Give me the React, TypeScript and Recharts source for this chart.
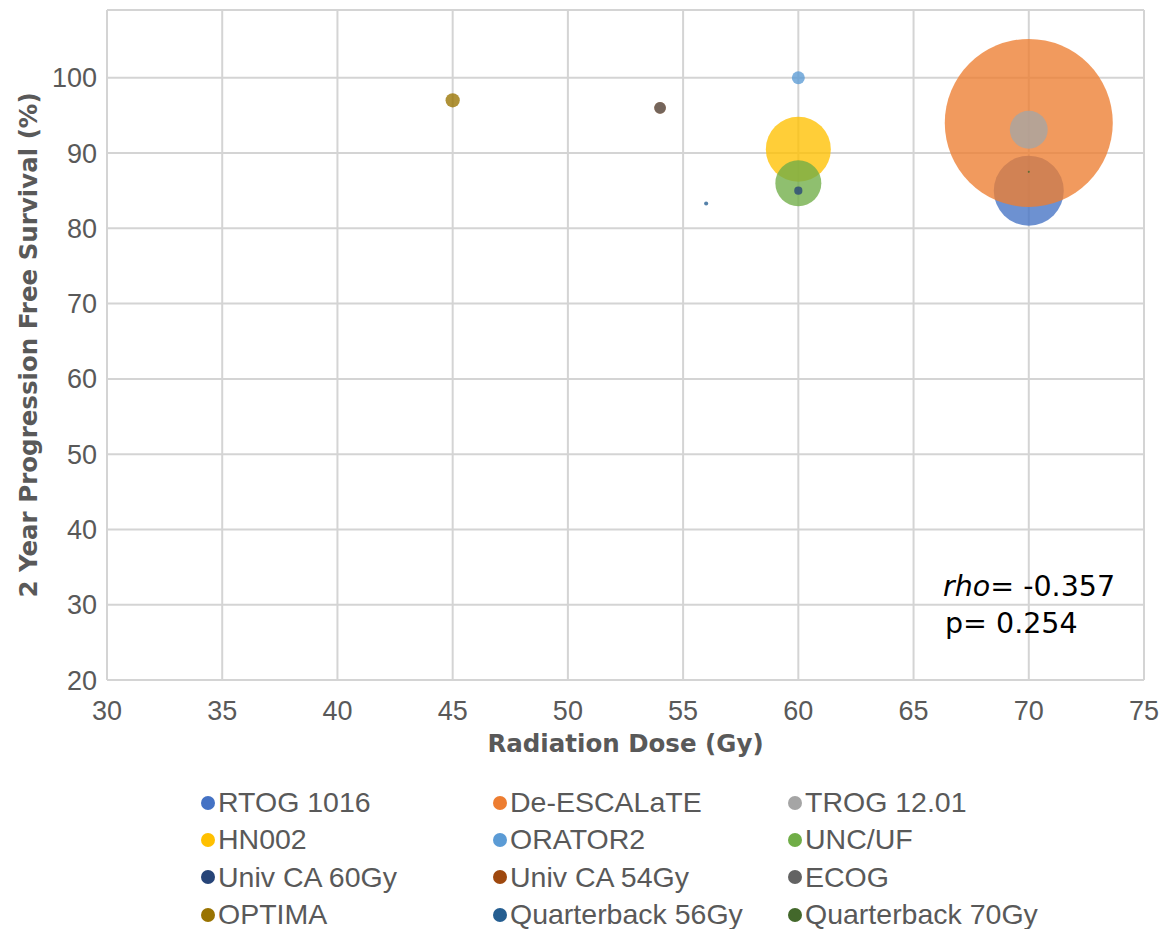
import { ScatterChart, Scatter, XAxis, YAxis, ZAxis, CartesianGrid, Legend } from 'recharts'

// one bubble per trial
const trialNames = [
  'RTOG 1016', 'De-ESCALaTE', 'TROG 12.01',
  'HN002', 'ORATOR2', 'UNC/UF',
  'Univ CA 60Gy', 'Univ CA 54Gy', 'ECOG',
  'OPTIMA', 'Quarterback 56Gy', 'Quarterback 70Gy',
]
const doses = [70, 70, 70, 60, 60, 60, 60, 54, 54, 45, 56, 70]
const pfs2yr = [85, 94, 93.1, 90.5, 100, 86, 85, 96, 96, 97, 83.3, 87.5]
const bubbleSizes = [58, 334, 17, 50, 2.0, 25, 0.8, 1.6, 1.6, 2.4, 0.2, 0.05]
const trialColors = [
  '#4472C4', '#ED7D31', '#A5A5A5',
  '#FFC000', '#5B9BD5', '#70AD47',
  '#264478', '#9E480E', '#636363',
  '#997300', '#255E91', '#43682B',
]
const xTicks = [30, 35, 40, 45, 50, 55, 60, 65, 70, 75]
const yTicks = [20, 30, 40, 50, 60, 70, 80, 90, 100]

const MAX_R = 84
const GRID = '#d4d4d4'
const TEXT = '#595959'

const Bubble = (props: any) => (
  <circle cx={props.cx} cy={props.cy} r={props.width / 2} fill={props.fill} fillOpacity={0.78} />
)

const YTitle = () => (
  <text
    x={37}
    y={345}
    transform="rotate(-90, 37, 345)"
    textAnchor="middle"
    fontFamily="DejaVu Sans"
    fontWeight="bold"
    fontSize={24.5}
    fill={TEXT}
  >
    2 Year Progression Free Survival (%)
  </text>
)

const XTitle = () => (
  <text x={625.5} y={752} textAnchor="middle" fontFamily="DejaVu Sans" fontWeight="bold" fontSize={24.5} fill={TEXT}>
    Radiation Dose (Gy)
  </text>
)

const colLeft = [201, 493, 788]

const renderLegend = () => (
  <div style={{ position: 'relative', width: 1171, height: 150, fontFamily: 'Liberation Sans', fontSize: 28.5, color: TEXT }}>
    {trialNames.map((name, i) => (
      <div
        key={name}
        style={{
          position: 'absolute',
          left: colLeft[i % 3],
          top: Math.floor(i / 3) * 37.3,
          height: 37.3,
          display: 'flex',
          alignItems: 'center',
          whiteSpace: 'nowrap',
        }}
      >
        <span style={{ width: 14, height: 14, borderRadius: '50%', background: trialColors[i], marginRight: 3 }} />
        <span>{name}</span>
      </div>
    ))}
  </div>
)

export default function App() {
  return (
    <div style={{ position: 'absolute', left: 0, top: 0, width: 1171, height: 929, background: '#fff' }}>
      <ScatterChart width={1171} height={929} margin={{ top: 10, right: 27, bottom: 179, left: 0 }}>
        <CartesianGrid stroke={GRID} strokeWidth={2} />
        <XAxis
          type="number"
          dataKey="x"
          domain={[30, 75]}
          ticks={xTicks}
          height={70}
          tickLine={false}
          tickSize={0}
          tickMargin={21}
          axisLine={{ stroke: GRID, strokeWidth: 2 }}
          tick={{ fill: TEXT, fontSize: 27, fontFamily: 'Liberation Sans' }}
          label={<XTitle />}
        />
        <YAxis
          type="number"
          dataKey="y"
          domain={[20, 109]}
          ticks={yTicks}
          width={107}
          tickLine={false}
          tickSize={0}
          tickMargin={10}
          axisLine={{ stroke: GRID, strokeWidth: 2 }}
          tick={{ fill: TEXT, fontSize: 27, fontFamily: 'Liberation Sans' }}
          label={<YTitle />}
        />
        <ZAxis type="number" dataKey="z" domain={[0, 334]} range={[0, Math.PI * MAX_R * MAX_R]} />
        {trialNames.map((name, i) => (
          <Scatter
            key={name}
            name={name}
            data={[{ x: doses[i], y: pfs2yr[i], z: bubbleSizes[i] }]}
            fill={trialColors[i]}
            shape={Bubble}
            isAnimationActive={false}
          />
        ))}
        <Legend
          layout="vertical"
          align="center"
          verticalAlign="middle"
          content={renderLegend}
          wrapperStyle={{ position: 'absolute', top: 784, left: 0, width: 1171, height: 150 }}
        />
      </ScatterChart>
      <svg width={1171} height={929} style={{ position: 'absolute', left: 0, top: 0, pointerEvents: 'none' }}>
        <text x={943} y={596} fontFamily="DejaVu Sans" fontSize={28.5} fill="#000">
          <tspan fontStyle="italic">rho</tspan>= -0.357
        </text>
        <text x={945} y={633} fontFamily="DejaVu Sans" fontSize={28.5} fill="#000">
          p= 0.254
        </text>
      </svg>
    </div>
  )
}
